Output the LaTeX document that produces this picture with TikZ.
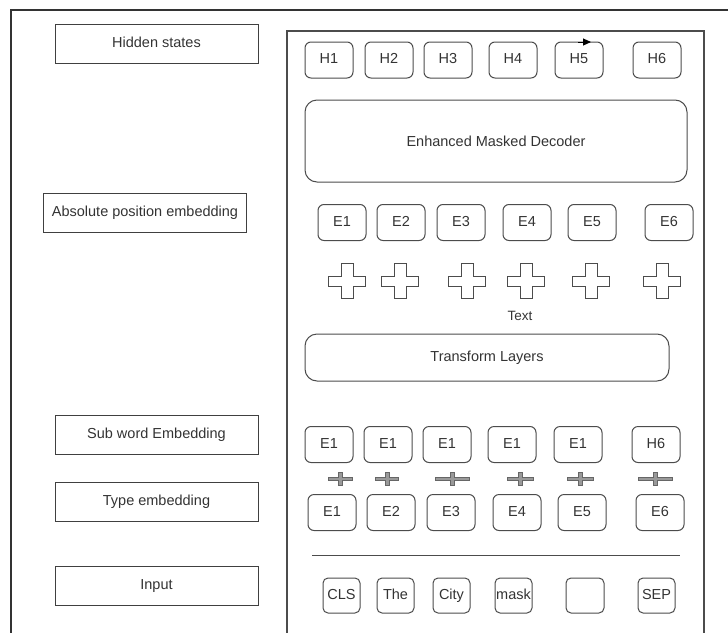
\documentclass[tikz,border=0pt]{standalone}
\usepackage{fontspec}
\setmainfont{Liberation Sans}
\usepackage{tikz}
\usetikzlibrary{positioning}
\usetikzlibrary{arrows.meta}

\tikzset{pics/bigplus/.style={code={\draw[black!70, line width=1pt] (-18.5,-5) -- (-6,-5) -- (-6,-17.5) -- (6,-17.5) -- (6,-5) -- (18.5,-5) -- (18.5,5) -- (6,5) -- (6,17.5) -- (-6,17.5) -- (-6,5) -- (-18.5,5) -- cycle;}},
         pics/smallplus/.style={code={\draw[black!60, fill=black!40, line width=0.7pt] (-#1,-1.8) -- (-2,-1.8) -- (-2,-6.5) -- (2,-6.5) -- (2,-1.8) -- (#1,-1.8) -- (#1,1.8) -- (2,1.8) -- (2,6.5) -- (-2,6.5) -- (-2,1.8) -- (-#1,1.8) -- cycle;}}}

\begin{document}
\begin{tikzpicture}[x=1pt, y=-1pt, line width=1pt,
                    lbl/.style={rectangle, draw=black!75, minimum width=203pt, minimum height=39pt, outer sep=0pt, text=black!80, font=\fontsize{14.5}{17}\selectfont, text height=10.5pt, text depth=3pt},
                    tok/.style={rectangle, rounded corners=6pt, draw=black!70, minimum width=48pt, minimum height=36pt, outer sep=0pt, text=black!80, font=\fontsize{14.5}{17}\selectfont, text height=10.5pt, text depth=3pt},
                    inp/.style={tok, minimum width=37pt, minimum height=35pt, inner sep=0pt, rounded corners=5pt},
                    block/.style={rectangle, rounded corners=12pt, draw=black!70, outer sep=0pt, text=black!80, font=\fontsize{14.5}{17}\selectfont}]
\useasboundingbox (0,0) rectangle (728,632);
\draw[line width=1.5pt, black!80] (11,640) -- (11,10) -- (740,10);
\draw[line width=1.5pt, black!70] (287,640) -- (287,31) -- (704,31) -- (704,640);
% left column
\node (hid) [lbl] at (156.5,44) {Hidden states};
\node (abs) [lbl] at (145,212.5) {Absolute position embedding};
\node (sub) [lbl] at (156.5,434.5) {Sub word Embedding};
\node (typ) [lbl] at (156.5,501.5) {Type embedding};
\node (inp) [lbl] at (156.5,585.5) {Input};
% hidden states
\node (h1) [tok] at (329,60) {H1};
\node (h2) [tok, right=12pt of h1] {H2};
\node (h3) [tok, right=11pt of h2] {H3};
\node (h4) [tok, right=17pt of h3] {H4};
\node (h5) [tok, right=18pt of h4] {H5};
\node (h6) [tok, right=30pt of h5] {H6};
\coordinate (a5) at ([xshift=-1pt]h5.north);
\coordinate (b5) at ([xshift=12pt]h5.north);
\draw[-{Triangle[length=8pt,width=7pt]}] (a5) -- (b5);
\node (dec) [block, minimum width=382pt, minimum height=82pt] at (496,141) {Enhanced Masked Decoder};
% position embeddings
\node (e1) [tok] at (342,222.5) {E1};
\node (e2) [tok, right=11pt of e1] {E2};
\node (e3) [tok, right=12pt of e2] {E3};
\node (e4) [tok, right=18pt of e3] {E4};
\node (e5) [tok, right=17pt of e4] {E5};
\node (e6) [tok, right=29pt of e5] {E6};
\foreach \cx in {347,400,467,526,591,662}
  \pic at (\cx,281) {bigplus};
\node (txt) [text=black!80, font=\fontsize{13.5}{16}\selectfont] at (520,316) {Text};
\node (trf) [block, minimum width=364pt, minimum height=47pt] at (487,357.5) {Transform Layers};
% sub word + type
\node (s1) [tok] at (329,444.5) {E1};
\node (s2) [tok, right=11pt of s1] {E1};
\node (s3) [tok, right=11pt of s2] {E1};
\node (s4) [tok, right=17pt of s3] {E1};
\node (s5) [tok, right=18pt of s4] {E1};
\node (s6) [tok, right=30pt of s5] {H6};
\foreach \cx/\w in {340/12,387/11.5,452/17,520/13,580/13,655/17}
  \pic at (\cx,479) {smallplus=\w};
\node (t1) [tok] at (332,512.5) {E1};
\node (t2) [tok, right=11pt of t1] {E2};
\node (t3) [tok, right=12pt of t2] {E3};
\node (t4) [tok, right=18pt of t3] {E4};
\node (t5) [tok, right=17pt of t4] {E5};
\node (t6) [tok, right=30pt of t5] {E6};
\draw[black!70] (312,555) -- (680,555);
% input tokens
\node (cls) [inp] at (341.5,595.5) {CLS};
\node (the) [inp, right=17pt of cls] {The};
\node (city) [inp, right=19pt of the] {City};
\node (mask) [inp, right=25pt of city] {mask};
\node (emp) [inp, minimum width=38pt, right=34pt of mask] {};
\node (sep) [inp, right=34pt of emp] {SEP};
\end{tikzpicture}
\end{document}
